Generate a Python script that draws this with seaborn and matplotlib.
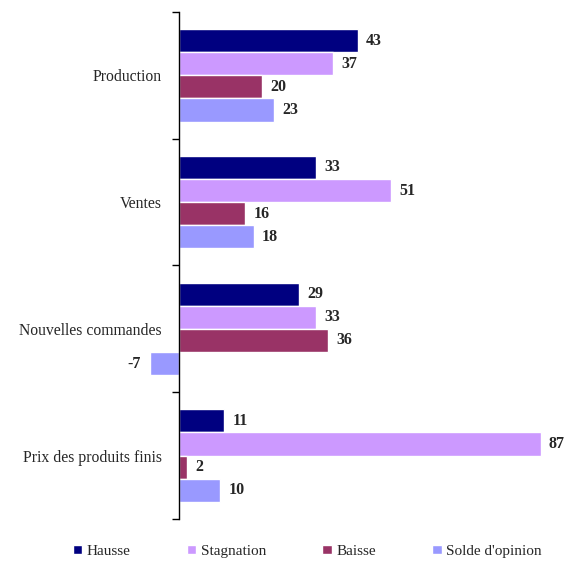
import pandas as pd
import numpy as np
import seaborn as sns
import matplotlib.pyplot as plt
from matplotlib.ticker import FixedLocator

# data
categories = ["Production", "Ventes", "Nouvelles commandes", "Prix des produits finis"]
series = ["Hausse", "Stagnation", "Baisse", "Solde d'opinion"]
hausse = [43, 33, 29, 11]
stagnation = [37, 51, 33, 87]
baisse = [20, 16, 36, 2]
solde = [23, 18, -7, 10]

colors = ["#000080", "#CC99FF", "#993366", "#9999FF"]

rows = []
for name, vals in zip(series, [hausse, stagnation, baisse, solde]):
    for cat, v in zip(categories, vals):
        rows.append({"cat": cat, "serie": name, "val": v})
df = pd.DataFrame(rows)

sns.set_style("white")
plt.rcParams['font.family'] = ['Liberation Serif', 'DejaVu Serif']

fig = plt.figure(figsize=(5.71, 5.63), dpi=100)
ax = fig.add_axes([0.240, 0.0782, 0.7285, 0.9005])

sns.barplot(data=df, x="val", y="cat", hue="serie", order=categories,
            hue_order=series, palette=colors, orient="h", width=0.73,
            saturation=1, errorbar=None, ax=ax)

for cont in ax.containers:
    ax.bar_label(cont, fmt="%g", padding=6, fontsize=11.5, fontweight="bold")

ax.set_xlim(-10, 90)
ax.set_ylim(3.5, -0.5)
ax.set_xlabel("")
ax.set_ylabel("")
ax.set_xticks([])

for s in ["top", "right", "bottom"]:
    ax.spines[s].set_visible(False)
ax.spines["left"].set_position(("data", 0))
ax.spines["left"].set_color("black")
ax.spines["left"].set_linewidth(1.0)

ax.tick_params(axis="y", which="major", length=0, pad=12, labelsize=11.3)
ax.yaxis.set_minor_locator(FixedLocator([-0.5, 0.5, 1.5, 2.5, 3.5]))
ax.tick_params(axis="y", which="minor", length=5, width=1, color="black", left=True)

handles, labels = ax.get_legend_handles_labels()
ax.get_legend().remove()
fig.legend(handles, labels, loc="center", bbox_to_anchor=(0.538, 0.021), ncol=4,
           frameon=False, fontsize=11, handlelength=0.6, handleheight=0.6,
           handletextpad=0.3, columnspacing=3.7)

fig.savefig("out.png", dpi=100)
